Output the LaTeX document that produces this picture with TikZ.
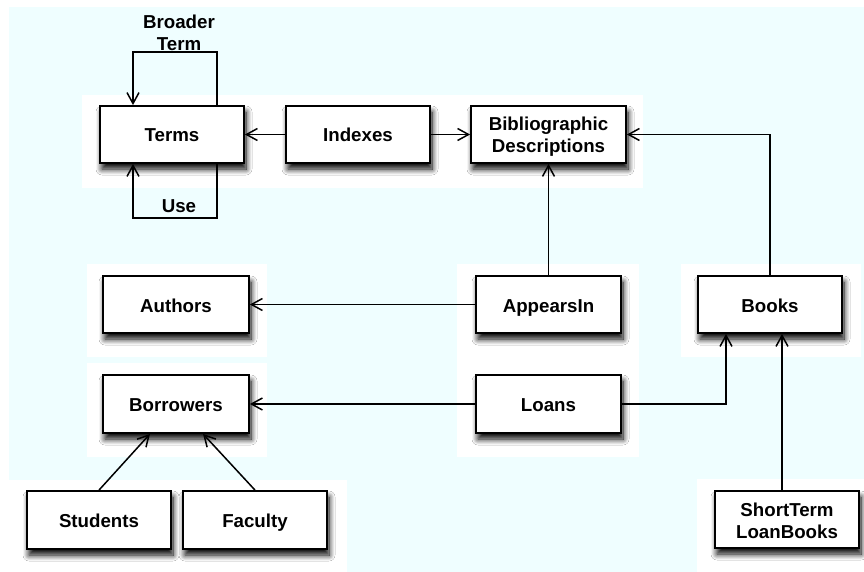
\documentclass[tikz,border=0pt]{standalone}
\usepackage{fontspec}
\setmainfont{Liberation Sans}
\usetikzlibrary{arrows.meta,shadows.blur}
\definecolor{canvas}{RGB}{239,254,255}
\begin{document}
\begin{tikzpicture}[x=1pt,y=-1pt,
  entity/.style={draw=black,line width=1.8pt,fill=white,rectangle,inner sep=0pt,
    minimum width=144pt,minimum height=57pt,align=center,
    font=\fontsize{18.7}{22}\selectfont\bfseries,
    blur shadow={shadow xshift=2pt,shadow yshift=-6pt,shadow blur radius=6pt,
      shadow opacity=100,shadow blur steps=10}},
  oneline/.style={text height=15pt,text depth=0pt},
  arr/.style={line width=1.5pt,-{Straight Barb[length=11pt,width=12pt,line width=1.5pt]}},
  patch/.style={fill=white,draw=none},
  lbl/.style={font=\fontsize{18.7}{22}\selectfont\bfseries,inner sep=0pt,align=center}]
\useasboundingbox (0,0) rectangle (864,572);
\fill[white] (0,0) rectangle (864,572);
\fill[canvas] (9,7) rectangle (864,572);

% white areas around the boxes
\fill[patch] (82,95) rectangle (643,188);
\fill[patch] (87,264) rectangle (267,357);
\fill[patch] (87,363) rectangle (267,457);
\fill[patch] (457,264) rectangle (639,457);
\fill[patch] (681,264) rectangle (861,357);
\fill[patch] (697,479) rectangle (864,572);
\fill[patch] (8,480) rectangle (347,572);

% entities
\node[entity,oneline] (terms) at (172,134.5) {Terms};
\node[entity,oneline] (idx) at (358,134.5) {Indexes};
\node[entity,minimum width=155pt] (bib) at (548.5,134.5)
  {\rule{0pt}{15pt}Bibliographic\\\smash{Descriptions}};
\node[entity,oneline,minimum width=146pt] (authors) at (176,304.5) {Authors};
\node[entity,oneline,minimum width=145pt] (appears) at (548.5,304.5) {AppearsIn};
\node[entity,oneline] (books) at (770,304.5) {Books};
\node[entity,oneline,minimum width=146pt,minimum height=58pt] (borrow) at (176,404) {Borrowers};
\node[entity,oneline,minimum width=145pt,minimum height=58pt] (loans) at (548.5,404) {Loans};
\node[entity,oneline,minimum height=58pt] (students) at (99,520) {Students};
\node[entity,oneline,minimum height=58pt] (faculty) at (255,520) {Faculty};
\node[entity] (short) at (787,519.5)
  {\rule{0pt}{15pt}ShortTerm\\\smash{LoanBooks}};

% relationships
\draw[arr] (idx) -- (terms);
\draw[arr] (idx) -- (bib);
\draw[arr] ([xshift=45pt]terms.north) -- ++(0,-53) -| ([xshift=-39pt]terms.north);
\draw[arr] ([xshift=45pt]terms.south) -- ++(0,54) -| ([xshift=-39pt]terms.south);
\node[lbl] (bt) at (179,32.5) {Broader\\Term};
\node[lbl,anchor=base] (use) at (179,212) {Use};
\draw[arr] (appears) -- (bib);
\draw[arr] (books.north) |- (bib.east);
\draw[arr] (appears) -- (authors);
\draw[arr] (loans) -- (borrow);
\draw[arr] (loans.east) -| ([xshift=-44pt]books.south);
\draw[arr] ([xshift=-5pt]short.north) -- ([xshift=-5pt]short.north |- books.south);
\draw[arr] (students.north) -- ([xshift=-26pt]borrow.south);
\draw[arr] (faculty.north) -- ([xshift=27pt]borrow.south);
\end{tikzpicture}
\end{document}
